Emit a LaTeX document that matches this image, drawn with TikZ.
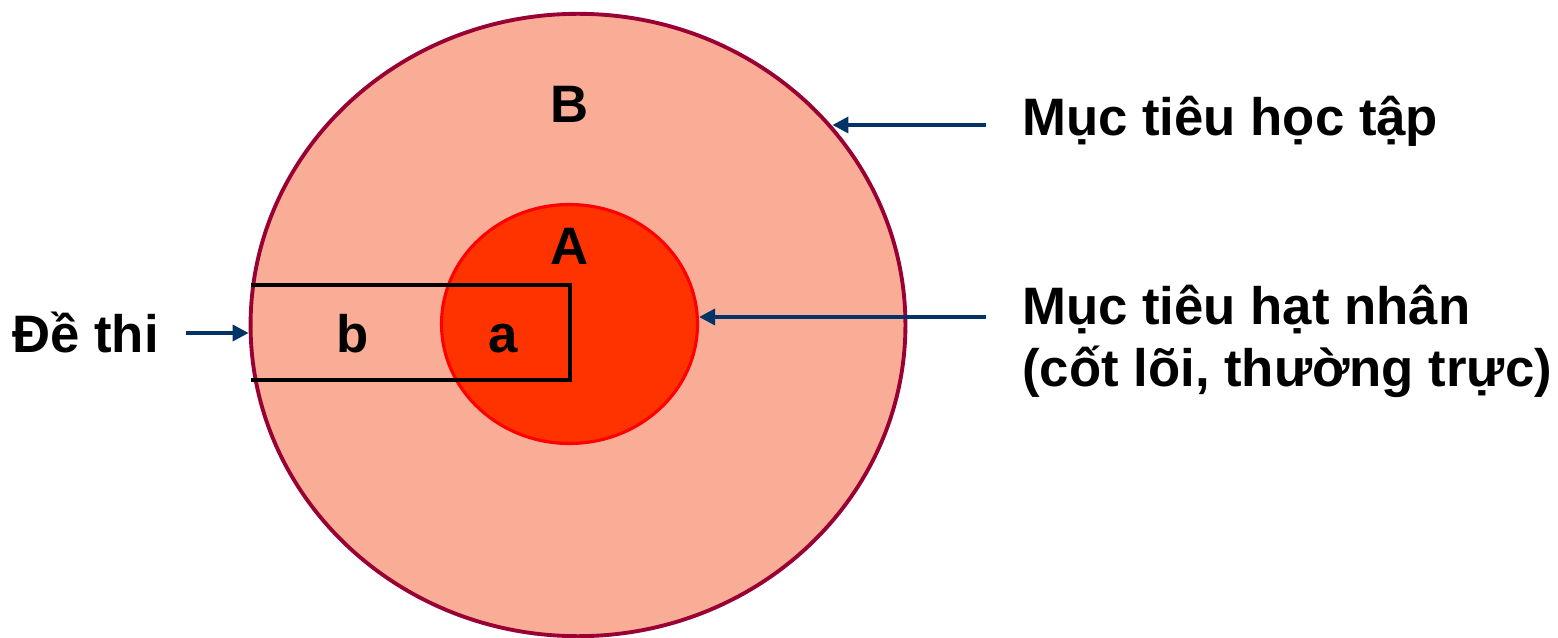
\documentclass[tikz,border=0pt]{standalone}
\usepackage{fontspec}
\setmainfont{Liberation Sans}
\usetikzlibrary{shapes.geometric,arrows.meta}
\definecolor{goalfill}{RGB}{249,173,150}
\definecolor{goalline}{RGB}{153,0,51}
\definecolor{corefill}{RGB}{255,51,0}
\definecolor{coreline}{RGB}{255,0,0}
\definecolor{pointcol}{RGB}{0,51,102}
\begin{document}
\begin{tikzpicture}[
    x=0.02cm, y=-0.02cm,
    every node/.style={inner sep=0pt, font=\fontsize{30}{35.3}\selectfont\bfseries},
    disc/.style={ellipse, draw, line width=2.2pt},
    pointer/.style={draw=pointcol, line width=2pt,
                    -{Triangle[length=0.32cm, width=0.32cm]}},
    examline/.style={draw=black, line width=2.2pt},
]
\useasboundingbox (0,0) rectangle (1558,638);
\node[disc, fill=goalfill, draw=goalline, minimum width=13.1cm,
      minimum height=12.45cm] (goals) at (578,325) {};
\node[disc, fill=corefill, draw=coreline, line width=1.8pt,
      minimum width=5.12cm, minimum height=4.78cm] (core) at (569.5,324) {};
\draw[examline] (251,285) -- (570,285) -- (570,380) -- (251,380);
\node[anchor=base] (labB) at (570,123) {B};
\node[anchor=base] (labA) at (570,265) {A};
\node[anchor=base] (labb) at (353,353) {b};
\node[anchor=base] (laba) at (503,353) {a};
\node[anchor=base west] (examtext) at (12,353) {Đề thi};
\node[anchor=base west] (goaltext) at (1022,136) {Mục tiêu học tập};
\node[anchor=west, align=left] (coretext) at (1022,341)
    {Mục tiêu hạt nhân\\(cốt lõi, thường trực)};
\coordinate (examstart) at (186,333);
\coordinate (goalstart) at (986,125);
\coordinate (corestart) at (986,317);
\draw[pointer] (examstart) -- (examstart -| goals.west);
\draw[pointer] (goalstart) -- (goalstart -| goals.38.8);
\draw[pointer] (corestart) -- (corestart -| core.east);
\end{tikzpicture}
\end{document}
